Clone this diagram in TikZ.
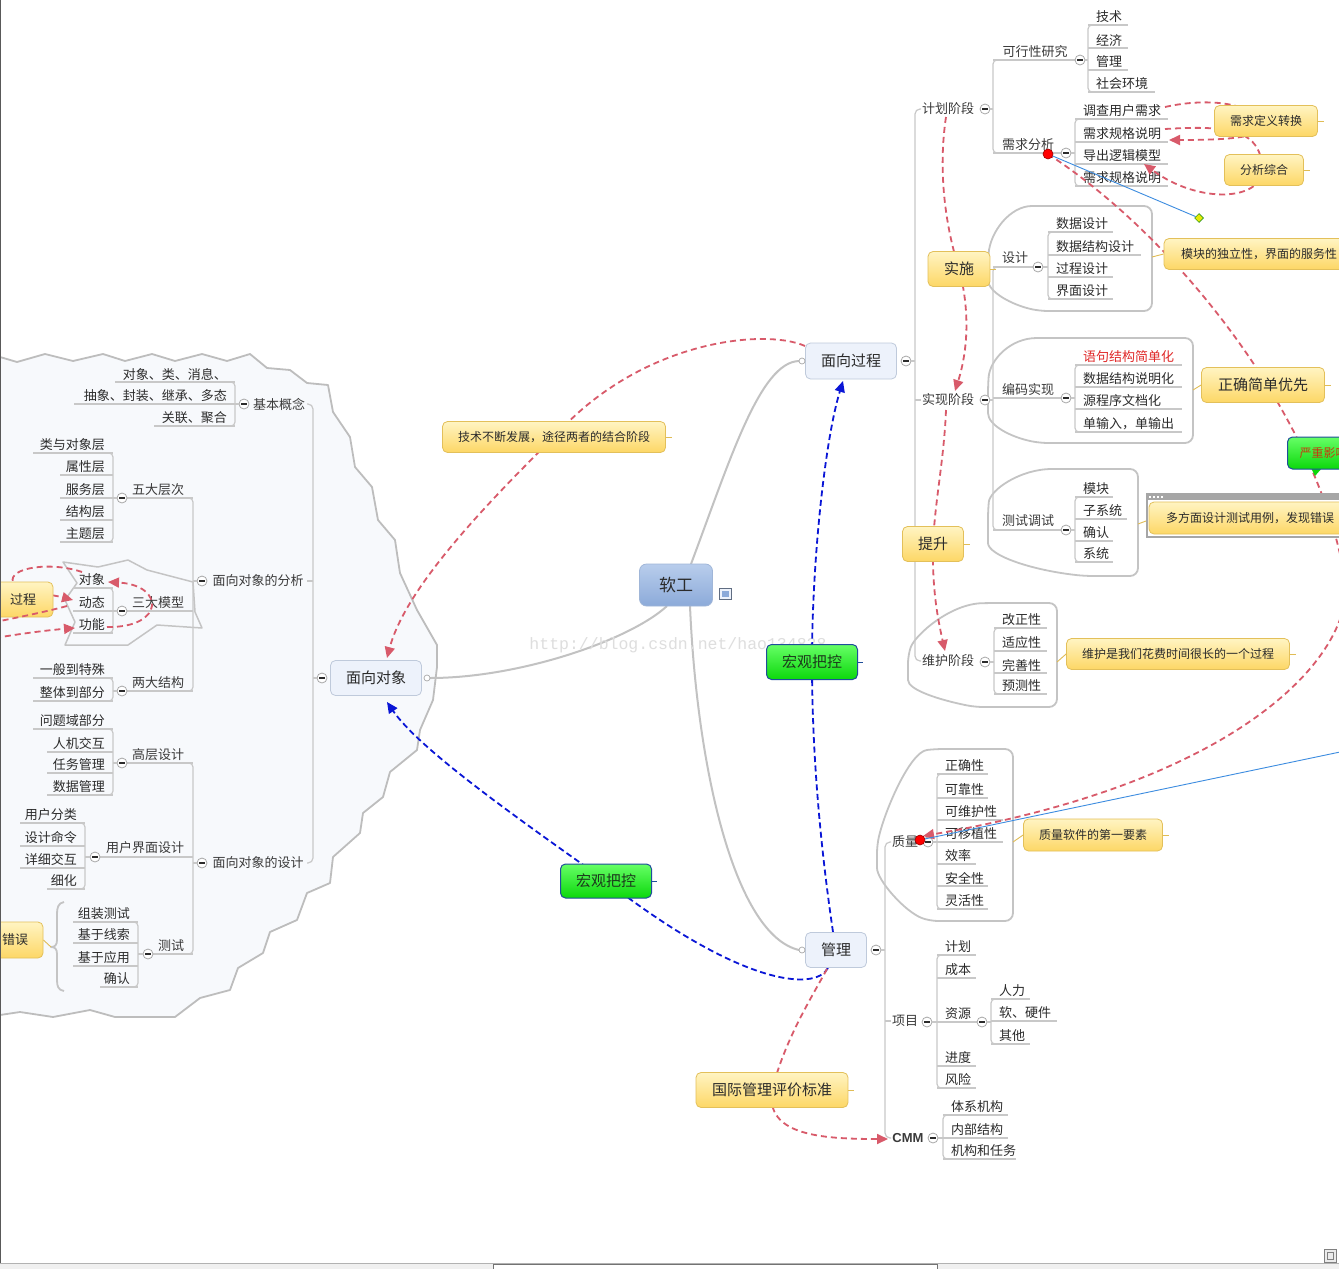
\documentclass[tikz,border=0pt]{standalone}
\usepackage{fontspec}
\setmainfont{Noto Sans CJK SC}
\newfontfamily\wmfont{Liberation Mono}
\newfontfamily\lsans{Liberation Sans}
\usetikzlibrary{arrows.meta,shapes.geometric}
\definecolor{txt}{HTML}{2B2B2B}
\definecolor{labtxt}{HTML}{3A3A3A}
\definecolor{redtxt}{HTML}{E02828}
\definecolor{treeg}{HTML}{C8C8C8}
\definecolor{bndg}{HTML}{C4C4C4}
\definecolor{collb}{HTML}{A8A8A8}
\definecolor{topf}{HTML}{EDF2FB}
\definecolor{topb}{HTML}{BFCADB}
\definecolor{root1}{HTML}{B8CDEC}
\definecolor{root2}{HTML}{8CAAD9}
\definecolor{rootb}{HTML}{A0B6D8}
\definecolor{yel1}{HTML}{FFF4C2}
\definecolor{yel2}{HTML}{FDD766}
\definecolor{yelb}{HTML}{E3C05A}
\definecolor{grn1}{HTML}{66FF66}
\definecolor{grn2}{HTML}{0CD80C}
\definecolor{grnb}{HTML}{1F4E9A}
\definecolor{grntxt}{HTML}{1C3A1C}
\definecolor{yztxt}{HTML}{C43C10}
\definecolor{relred}{HTML}{D85A6A}
\definecolor{relblue}{HTML}{0A16D6}
\definecolor{mainlc}{HTML}{C2C2C2}
\definecolor{stubc}{HTML}{E0BC55}
\definecolor{handc}{HTML}{3C8CE0}
\definecolor{cloudf}{HTML}{F7F9FC}
\definecolor{cloudb}{HTML}{BDBDBD}
\newcommand{\fs}[1]{\fontsize{#1}{#1}\selectfont}
\newcommand{\cc}[3]{\node[coll] (#1) at (#2,#3) {};\draw[line width=1.1pt,draw=txt] (#1.center) +(-2.6,0) -- +(2.6,0);}
\newcommand{\rleaves}[4]{%
  \draw[tree,rounded corners=4pt] (#1+8,#2) -- (#1,#2) -- (#1,#3) -- (#1+8,#3);
  \foreach \yu/\tx/\xe in {#4}{%
    \draw[tree] (#1,\yu) -- (\xe,\yu);
    \node[leaf,anchor=west] (r#1y\yu) at (#1+8,\yu-8) {\tx};}%
}
\newcommand{\lleaves}[4]{%
  \draw[tree,rounded corners=4pt] (#1-8,#2) -- (#1,#2) -- (#1,#3) -- (#1-8,#3);
  \foreach \yu/\tx/\xs in {#4}{%
    \draw[tree] (\xs,\yu) -- (#1,\yu);
    \node[leaf,anchor=east] (l#1y\yu) at (#1-8,\yu-8) {\tx};}%
}
\begin{document}
\begin{tikzpicture}[x=1pt,y=-1pt,
  tree/.style={draw=treeg,line width=1.2pt},
  bnd/.style={draw=bndg,line width=1.8pt,line join=round},
  leaf/.style={inner sep=0pt,font=\fs{13},text=txt},
  lab/.style={inner sep=0pt,font=\fs{13},text=labtxt},
  coll/.style={circle,draw=collb,fill=white,line width=0.8pt,minimum size=10pt,inner sep=0pt},
  ocirc/.style={circle,draw=collb,fill=white,line width=0.7pt,minimum size=6pt,inner sep=0pt},
  topic/.style={rounded corners=5pt,draw=topb,line width=0.8pt,fill=topf,font=\fs{15},text=txt,inner sep=0pt},
  rootbox/.style={rounded corners=7pt,draw=rootb,line width=0.8pt,top color=root1,bottom color=root2,font=\fs{17},text=txt,inner sep=0pt},
  yelbox/.style={rounded corners=5pt,draw=yelb,line width=0.8pt,top color=yel1,bottom color=yel2,font=\fs{12},text=txt,inner sep=0pt},
  grbox/.style={rounded corners=5pt,draw=grnb,line width=1pt,top color=grn1,bottom color=grn2,font=\fs{15},text=grntxt,inner sep=0pt},
  rel/.style={draw=relred,line width=1.8pt,dash pattern=on 6pt off 4pt},
  relb/.style={draw=relblue,line width=1.8pt,dash pattern=on 6pt off 3.5pt},
  rtip/.style={-{Triangle[length=11pt,width=10pt]}},
  mainl/.style={draw=mainlc,line width=2pt},
  stub/.style={draw=stubc,line width=0.9pt},
  handle/.style={draw=handc,line width=0.9pt},
  reddot/.style={circle,fill=red,draw=red!60!black,line width=0.6pt,minimum size=10pt,inner sep=0pt},
]
\fill[white] (0,0) rectangle (1339,1269);
\useasboundingbox (0,0) rectangle (1339,1269);

% ---------- cloud on the left ----------
\fill[cloudf] (-5,357) -- (0,357) -- (17,362) -- (45,354) -- (73,361) -- (103,354) -- (125,361) -- (152,354) -- (175,361) -- (202,354) -- (227,361) -- (250,354) -- (267,368) -- (290,370) -- (307,383) -- (328,385) -- (333,412) -- (350,437) -- (355,467) -- (372,487) -- (378,520) -- (395,540) -- (398,560) -- (400,573) -- (417,610) -- (437,645) -- (437,667) -- (433,700) -- (420,730) -- (417,750) -- (390,772) -- (383,797) -- (363,813) -- (360,833) -- (333,857) -- (330,883) -- (307,893) -- (297,920) -- (270,932) -- (263,953) -- (238,968) -- (230,990) -- (200,998) -- (175,1017) -- (115,1017) -- (90,1010) -- (53,1017) -- (20,1012) -- (0,1015) -- (-5,1015) -- cycle;
\draw[draw=cloudb,line width=1.8pt,line join=round] (0,357) -- (17,362) -- (45,354) -- (73,361) -- (103,354) -- (125,361) -- (152,354) -- (175,361) -- (202,354) -- (227,361) -- (250,354) -- (267,368) -- (290,370) -- (307,383) -- (328,385) -- (333,412) -- (350,437) -- (355,467) -- (372,487) -- (378,520) -- (395,540) -- (398,560) -- (400,573) -- (417,610) -- (437,645) -- (437,667) -- (433,700) -- (420,730) -- (417,750) -- (390,772) -- (383,797) -- (363,813) -- (360,833) -- (333,857) -- (330,883) -- (307,893) -- (297,920) -- (270,932) -- (263,953) -- (238,968) -- (230,990) -- (200,998) -- (175,1017) -- (115,1017) -- (90,1010) -- (53,1017) -- (20,1012) -- (0,1015);

% ---------- group boundaries ----------
\draw[bnd,rounded corners=8pt] (1040,311) .. controls (1012,305) and (988,292) .. (988,272) -- (988,262) .. controls (990,232) and (1010,206) .. (1040,206) -- (1152,206) -- (1152,311) -- cycle;
\draw[bnd,rounded corners=8pt] (1040,443) .. controls (1010,437) and (988,425) .. (988,405) -- (988,385) .. controls (990,360) and (1010,338) .. (1045,338) -- (1193,338) -- (1193,443) -- cycle;
\draw[bnd,rounded corners=8pt] (1085,576) .. controls (1030,570) and (988,555) .. (988,535) -- (988,510) .. controls (990,490) and (1020,469) .. (1060,469) -- (1138,469) -- (1138,576) -- cycle;
\draw[bnd,rounded corners=8pt] (975,707) .. controls (940,700) and (908,690) .. (908,672) -- (908,655) .. controls (915,635) and (950,604) .. (990,603) -- (1057,603) -- (1057,707) -- cycle;
\draw[bnd,rounded corners=8pt] (930,921) .. controls (905,912) and (877,880) .. (877,860) -- (877,845) .. controls (885,810) and (910,752) .. (935,749) -- (1013,749) -- (1013,921) -- cycle;
\draw[bnd,line width=1.5pt] (63,562) -- (98,567) -- (128,560) -- (147,570) -- (193,582) -- (195,612) -- (202,628) -- (157,625) -- (128,645) -- (65,645) -- (75,622) -- (65,600) -- (77,583) -- cycle;
% summary brace
\draw[bnd] (64,902) .. controls (58,903) and (57,908) .. (57,914) -- (57,940) .. controls (57,945) and (55,947) .. (51,947) .. controls (55,947) and (57,949) .. (57,954) -- (57,980) .. controls (57,986) and (58,990) .. (64,991);

% ---------- right tree: 面向过程 ----------
\cc{cmxgc}{906}{361}
\draw[tree] (cmxgc.east) -- (915,361);
\draw[tree,rounded corners=5pt] (921,109) -- (915,109) -- (915,661) -- (921,661);
\draw[tree] (915,400) -- (921,400);
\node[lab] (jhjd) at (948,109) {计划阶段};
\node[lab] (sxjd) at (948,400) {实现阶段};
\node[lab] (whjd) at (948,661) {维护阶段};
\cc{cjh}{985}{109}
\draw[tree] (cjh.east) -- (993,109);
\draw[tree,rounded corners=4pt] (1001,60) -- (993,60) -- (993,153) -- (1001,153);
\draw[tree] (993,60) -- (1075,60);
\node[lab] (kxx) at (1035,52) {可行性研究};
\cc{ckx}{1080}{60}
\draw[tree] (ckx.east) -- (1088,60);
\rleaves{1088}{25}{92}{25/技术/1128, 48/经济/1128, 70/管理/1128, 92/社会环境/1155}
\draw[tree] (993,153) -- (1061,153);
\node[lab] (xqfx) at (1028,145) {需求分析};
\cc{cxq}{1066}{153}
\draw[tree] (cxq.east) -- (1075,153);
\rleaves{1075}{119}{186}{119/调查用户需求/1168, 142/需求规格说明/1168, 164/导出逻辑模型/1168, 186/需求规格说明/1168}

\cc{csx}{985}{400}
\draw[tree] (csx.east) -- (993,400);
\draw[tree,rounded corners=4pt] (1001,267) -- (993,267) -- (993,530) -- (1001,530);
\draw[tree] (993,267) -- (1033,267);
\node[lab] (sj) at (1015,258) {设计};
\cc{csj}{1038}{267}
\draw[tree] (csj.east) -- (1048,267);
\rleaves{1048}{232}{299}{232/数据设计/1113, 255/数据结构设计/1141, 277/过程设计/1113, 299/界面设计/1113}
\draw[tree] (993,398) -- (1061,398);
\node[lab] (bmsx) at (1028,390) {编码实现};
\cc{cbm}{1066}{398}
\draw[tree] (cbm.east) -- (1075,398);
\rleaves{1075}{365}{432}{365/{\color{redtxt}语句结构简单化}/1182, 387/数据结构说明化/1182, 409/源程序文档化/1182, 432/单输入，单输出/1182}
\draw[tree] (993,530) -- (1061,530);
\node[lab] (csts) at (1028,521) {测试调试};
\cc{ccs}{1066}{530}
\draw[tree] (ccs.east) -- (1075,530);
\rleaves{1075}{497}{562}{497/模块/1113, 519/子系统/1127, 541/确认/1113, 562/系统/1113}

\cc{cwh}{985}{662}
\draw[tree] (cwh.east) -- (994,662);
\rleaves{994}{628}{694}{628/改正性/1047, 651/适应性/1047, 673/完善性/1047, 694/预测性/1047}

% ---------- right tree: 管理 ----------
\cc{cgl}{876}{950}
\draw[tree] (cgl.east) -- (885,950);
\draw[tree,rounded corners=5pt] (891,842) -- (885,842) -- (885,1138) -- (891,1138);
\draw[tree] (885,1021) -- (891,1021);
\node[lab] (zl) at (905,842) {质量};
\cc{czl}{928}{842}
\draw[tree] (czl.east) -- (937,842);
\rleaves{937}{774}{909}{774/正确性/988, 798/可靠性/988, 820/可维护性/1003, 842/可移植性/1003, 864/效率/976, 886/安全性/988, 909/灵活性/988}
\node[lab] (xm) at (905,1021) {项目};
\cc{cxm}{927}{1022}
\draw[tree] (cxm.east) -- (937,1022);
\rleaves{937}{955}{1088}{955/计划/976, 978/成本/976, 1022/资源/977, 1066/进度/976, 1088/风险/976}
\cc{czy}{982}{1022}
\draw[tree] (czy.east) -- (991,1022);
\rleaves{991}{999}{1044}{999/人力/1030, 1021/软、硬件/1057, 1044/其他/1030}
\node[lab,font=\lsans\bfseries\fs{13}] (cmm) at (908,1138) {CMM};
\cc{ccmm}{933}{1138}
\draw[tree] (ccmm.east) -- (943,1138);
\rleaves{943}{1115}{1159}{1115/体系机构/1008, 1138/内部结构/1008, 1159/机构和任务/1016}

% ---------- left tree: 面向对象 ----------
\cc{cmxdx}{322}{678}
\draw[tree] (cmxdx.west) -- (313,678);
\draw[tree,rounded corners=5pt] (307,404) -- (313,404) -- (313,863) -- (307,863);
\draw[tree] (313,581) -- (307,581);
\node[lab] (jbgn) at (279,404) {基本概念};
\node[lab] (fxa) at (258,581) {面向对象的分析};
\node[lab] (sjd) at (258,863) {面向对象的设计};
\cc{cjb}{244}{404}
\draw[tree] (cjb.west) -- (235,404);
\lleaves{235}{382}{426}{382/对象、类、消息、/115, 404/抽象、封装、继承、多态/74, 426/关联、聚合/154}

\cc{cfx}{202}{581}
\draw[tree] (cfx.west) -- (193,581);
\draw[tree,rounded corners=4pt] (185,498) -- (193,498) -- (193,691) -- (185,691);
\draw[tree] (127,498) -- (193,498);
\node[lab] (wdcc) at (158,490) {五大层次};
\cc{cwd}{122}{498}
\draw[tree] (cwd.west) -- (113,498);
\lleaves{113}{453}{542}{453/类与对象层/33, 475/属性层/60, 498/服务层/60, 520/结构层/60, 542/主题层/60}
\draw[tree] (127,611) -- (193,611);
\node[lab] (sdmx) at (158,603) {三大模型};
\cc{csd}{122}{611}
\draw[tree] (csd.west) -- (113,611);
\lleaves{113}{588}{633}{588/对象/73, 611/动态/73, 633/功能/73}
\draw[tree] (127,691) -- (193,691);
\node[lab] (ldjg) at (158,683) {两大结构};
\cc{cld}{122}{691}
\draw[tree] (cld.west) -- (113,691);
\lleaves{113}{678}{701}{678/一般到特殊/33, 701/整体到部分/33}

\cc{csjd}{202}{863}
\draw[tree] (csjd.west) -- (193,863);
\draw[tree,rounded corners=4pt] (185,763) -- (193,763) -- (193,954) -- (185,954);
\draw[tree] (127,763) -- (193,763);
\node[lab] (gcsj) at (158,755) {高层设计};
\cc{cgc}{122}{763}
\draw[tree] (cgc.west) -- (113,763);
\lleaves{113}{729}{795}{729/问题域部分/33, 752/人机交互/47, 773/任务管理/47, 795/数据管理/47}
\draw[tree] (100,857) -- (193,857);
\node[lab] (yhjm) at (145,848) {用户界面设计};
\cc{cyh}{95}{857}
\draw[tree] (cyh.west) -- (85,857);
\lleaves{85}{823}{889}{823/用户分类/20, 846/设计命令/20, 868/详细交互/20, 889/细化/47}
\draw[tree] (153,954) -- (193,954);
\node[lab] (cst) at (171,946) {测试};
\cc{ccs2}{148}{954}
\draw[tree] (ccs2.west) -- (138,954);
\lleaves{138}{922}{987}{922/组装测试/73, 943/基于线索/73, 966/基于应用/73, 987/确认/100}

% ---------- main connectors from the root ----------
\draw[mainl] (691,564) .. controls (730,460) and (760,362) .. (799,361);
\draw[mainl] (690,606) .. controls (697,770) and (735,935) .. (799,950);
\draw[mainl] (667,606) .. controls (630,640) and (520,678) .. (430,678);

% watermark
\node[font=\wmfont\fs{16.5},text=black!13,inner sep=0pt] (wm) at (678,645) {http://blog.csdn.net/hao134838};

% ---------- relationships ----------
\draw[rel,rtip] (805,346) .. controls (765,328) and (640,340) .. (554,437) .. controls (480,510) and (405,590) .. (387,658);
\draw[relb,rtip] (833,932) .. controls (818,830) and (812,740) .. (812,662) .. controls (812,560) and (825,440) .. (843,381);
\draw[relb,rtip] (828,968) .. controls (815,992) and (740,985) .. (606,881) .. controls (520,820) and (420,750) .. (387,702);
\draw[rel,rtip] (827,969) .. controls (810,1000) and (785,1040) .. (772,1090) .. controls (765,1135) and (820,1139) .. (888,1139);
\draw[rel,rtip] (946,117) .. controls (938,170) and (945,225) .. (959,269) .. controls (970,310) and (968,350) .. (955,391);
\draw[rel,rtip] (946,410) .. controls (944,460) and (935,500) .. (933,544) .. controls (932,590) and (938,620) .. (945,651);
\draw[rel,rtip] (1165,107) .. controls (1200,99) and (1245,100) .. (1262,121) .. controls (1268,136) and (1240,140) .. (1169,140);
\draw[rel,rtip] (1165,129) .. controls (1230,125) and (1262,130) .. (1262,170) .. controls (1262,200) and (1200,205) .. (1144,164);
\draw[rel,rtip] (1048,154) .. controls (1180,240) and (1320,420) .. (1345,580) .. controls (1355,650) and (1250,780) .. (923,836);
\draw[rel,rtip] (107,627) .. controls (165,628) and (165,585) .. (108,582);
\draw[rel,rtip] (82,572) .. controls (50,561) and (8,568) .. (13,582) .. controls (18,592) and (50,594) .. (73,600);

% ---------- topic boxes ----------
\node[rootbox,minimum width=73pt,minimum height=42pt] (rg) at (676,585) {软工};
\draw[draw=rootb!60!black,fill=topf,line width=0.8pt] (719,588) rectangle (731,599);
\fill[root2] (721.5,591) rectangle (728.5,596.5);
\node[topic,minimum width=91pt,minimum height=36pt] (mxgc) at (851,361) {面向过程};
\node[topic,minimum width=91pt,minimum height=35pt] (mxdx) at (376,678) {面向对象};
\node[topic,minimum width=61pt,minimum height=35pt] (gl) at (836,950) {管理};
\node[ocirc] (o1) at (802,361) {};
\node[ocirc] (o2) at (802,950) {};
\node[ocirc] (o3) at (427,678) {};

\node[grbox,minimum width=91pt,minimum height=35pt] (hg1) at (812,662) {宏观把控};
\node[grbox,minimum width=91pt,minimum height=34pt] (hg2) at (606,881) {宏观把控};
\node[yelbox,font=\fs{15},minimum width=152pt,minimum height=35pt] (gj) at (772,1090) {国际管理评价标准};
\node[yelbox,minimum width=223pt,minimum height=31pt] (js) at (554,437) {技术不断发展，途径两者的结合阶段};
\node[yelbox,minimum width=103pt,minimum height=31pt] (xqdy) at (1266,121) {需求定义转换};
\node[yelbox,minimum width=79pt,minimum height=31pt] (fxzh) at (1264,170) {分析综合};
\node[yelbox,font=\fs{15},minimum width=62pt,minimum height=35pt] (ss) at (959,269) {实施};
\node[yelbox,font=\fs{15},minimum width=61pt,minimum height=35pt] (ts) at (933,544) {提升};
\node[yelbox,minimum width=190pt,minimum height=31pt] (mkdl) at (1259,254) {模块的独立性，界面的服务性};
\node[yelbox,font=\fs{15},minimum width=123pt,minimum height=35pt] (zqjd) at (1263,385) {正确简单优先};
\fill[black!35] (1146,493) rectangle (1352,538);
\fill[white] (1148,500) rectangle (1352,536);
\foreach \dx in {1149,1153,1157,1161}{\fill[white] (\dx,495.5) rectangle (\dx+2,497.5);}
\node[yelbox,minimum width=202pt,minimum height=32pt] (dfm) at (1250,518) {多方面设计测试用例，发现错误};
\node[yelbox,minimum width=223pt,minimum height=31pt] (whs) at (1178,654) {维护是我们花费时间很长的一个过程};
\node[yelbox,minimum width=139pt,minimum height=32pt] (zlrj) at (1093,835) {质量软件的第一要素};
\node[yelbox,font=\fs{13},minimum width=60pt,minimum height=35pt] (gcb) at (23,599.5) {过程};
\node[yelbox,font=\fs{13},minimum width=56pt,minimum height=36pt] (cwb) at (15,940) {错误};
\draw[rel] (67,606) .. controls (45,612) and (15,618) .. (-5,622);
\draw[rel,rtip] (-5,638) .. controls (25,633) and (50,630) .. (75,628);

% green label with pointer
\fill[grn2] (1311,468) -- (1315,476) -- (1322,468) -- cycle;
\node[grbox,font=\fs{12},text=yztxt,minimum width=72pt,minimum height=32pt,anchor=west] (yzyx) at (1287,453) {严重影响};

% stubs to callouts
\draw[stub] (1152,257) -- (mkdl.west);
\draw[stub] (1193,390) -- (zqjd.west);
\draw[stub] (1138,524) -- (1146,521);
\draw[stub] (1057,662) -- (whs.west);
\draw[stub] (1013,842) -- (zlrj.west);
\draw[stub] (cwb.east) -- (51,947);
\foreach \nm in {js,whs,zlrj,zqjd,xqdy,fxzh,gj,ss,ts}{\draw[stub] (\nm.east) -- ++(6,0);}
\foreach \nm in {hg1,hg2}{\draw[draw=grnb,line width=0.9pt] (\nm.east) -- ++(5,0);}

% ---------- selection handles ----------
\node[reddot] (rd1) at (1048,154) {};
\node[reddot] (rd2) at (920,840) {};
\node[diamond,fill=yellow!90!green,draw=green!50!black,line width=0.5pt,minimum size=9pt,inner sep=0pt] (dm) at (1199,218) {};
\coordinate (hnd2) at (1352,749.5);
\draw[handle] (rd1) -- (dm);
\draw[handle] (rd2) -- (hnd2);

% ---------- window frame ----------
\draw[draw=black!65,line width=1.2pt] (0.6,0) -- (0.6,1263);
\fill[black!6] (0,1263) rectangle (1339,1269);
\draw[draw=black!30,line width=0.6pt] (0,1263.3) -- (1339,1263.3);
\draw[draw=black!55,fill=white,line width=0.8pt] (493,1264.5) rectangle (937,1270);
\draw[draw=black!50,fill=black!8,line width=0.7pt] (1324,1249) rectangle (1336,1262);
\draw[draw=black!50,line width=0.5pt] (1327,1252) rectangle (1333,1259);
\end{tikzpicture}
\end{document}
